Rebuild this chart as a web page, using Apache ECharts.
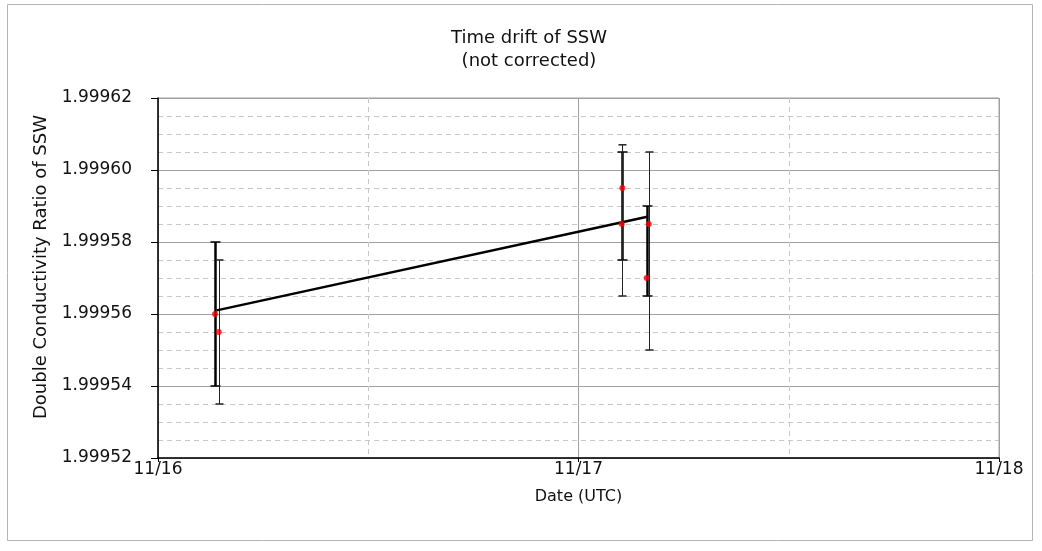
<!DOCTYPE html>
<html>
<head>
<meta charset="utf-8">
<script src="https://cdn.jsdelivr.net/npm/echarts@6/dist/echarts.min.js"></script>
<style>
html,body{margin:0;padding:0;background:#fff;}
#chart{width:1042px;height:551px;}
</style>
</head>
<body>
<div id="chart"></div>
<script>
// ---- data (days since 11/16 00:00 UTC) ----
const xTickLabels = ['11/16', '11/17', '11/18'];
const yTickLabels = ['1.99952', '1.99954', '1.99956', '1.99958', '1.99960', '1.99962'];

// run A (heavy error bars)
const runATimes  = [0.1356, 1.1042, 1.1620];
const runAValues = [1.999560, 1.999595, 1.999570];
const runALow    = [1.999540, 1.999575, 1.999565];
const runAHigh   = [1.999580, 1.999605, 1.999590];

// run B (light error bars)
const runBTimes  = [0.1445, 1.1028, 1.1670];
const runBValues = [1.999555, 1.999585, 1.999585];
const runBLow    = [1.999535, 1.999565, 1.999550];
const runBHigh   = [1.999575, 1.999607, 1.999605];

// linear drift
const trendTimes  = [0.1396, 1.1636];
const trendValues = [1.999561, 1.999587];

const FONT = 'DejaVu Sans';

function errData(t, lo, hi) { return t.map((x, i) => [x, lo[i], hi[i]]); }
function ptData(t, v) { return t.map((x, i) => [x, v[i]]); }

function errRender(lineW, capHalf, color) {
  return function (params, api) {
    const x = api.value(0);
    const pLo = api.coord([x, api.value(1)]);
    const pHi = api.coord([x, api.value(2)]);
    const style = { stroke: color, lineWidth: lineW };
    const xs = Math.round(pLo[0]) + (lineW % 2 ? 0.5 : 0);
    return {
      type: 'group',
      children: [
        { type: 'line', shape: { x1: xs, y1: pHi[1], x2: xs, y2: pLo[1] }, style: style },
        { type: 'line', shape: { x1: xs - capHalf, y1: pHi[1], x2: xs + capHalf, y2: pHi[1] }, style: { stroke: color, lineWidth: 1.5 } },
        { type: 'line', shape: { x1: xs - capHalf, y1: pLo[1], x2: xs + capHalf, y2: pLo[1] }, style: { stroke: color, lineWidth: 1.5 } }
      ]
    };
  };
}

const chart = echarts.init(document.getElementById('chart'), null, { renderer: 'canvas' });
chart.setOption({
  animation: false,
  backgroundColor: '#fff',
  textStyle: { fontFamily: FONT },
  title: {
    text: 'Time drift of SSW\n(not corrected)',
    left: 524, top: 22, textAlign: 'center',
    textStyle: { fontFamily: FONT, fontSize: 18, fontWeight: 'normal', color: '#111', lineHeight: 23 }
  },
  graphic: [{
    type: 'rect', silent: true, z: -10,
    shape: { x: 7.5, y: 4.5, width: 1025, height: 536 },
    style: { fill: 'none', stroke: '#b4b4b4', lineWidth: 1 }
  }],
  grid: { left: 158, right: 43, top: 98, bottom: 93, show: true, borderColor: '#a0a0a0', borderWidth: 1 },
  xAxis: {
    type: 'value', min: 0, max: 2, interval: 1,
    name: 'Date (UTC)', nameLocation: 'middle', nameGap: 31,
    nameTextStyle: { fontFamily: FONT, fontSize: 16, color: '#111' },
    axisLine: { show: true, onZero: false, lineStyle: { color: '#000', width: 1.5 } },
    axisTick: { show: true, inside: false, length: 4, lineStyle: { color: '#000' } },
    axisLabel: { margin: 3, fontFamily: FONT, fontSize: 17, color: '#111',
      formatter: v => xTickLabels[Math.round(v)] },
    splitLine: { show: true, lineStyle: { color: '#a0a0a0', width: 1 } },
    minorTick: { show: false, splitNumber: 2 },
    minorSplitLine: { show: true, lineStyle: { color: '#c8c8c8', type: [5, 4], width: 1 } }
  },
  yAxis: {
    type: 'value', min: 1.99952, max: 1.99962, interval: 0.00002,
    name: 'Double Conductivity Ratio of SSW', nameLocation: 'middle', nameGap: 95, nameRotate: 90,
    nameTextStyle: { fontFamily: FONT, fontSize: 18, color: '#111', padding: [0, 0, 0, 22] },
    axisLine: { show: true, lineStyle: { color: '#000', width: 1.5 } },
    axisTick: { show: true, inside: false, length: 7, lineStyle: { color: '#000' } },
    axisLabel: { margin: 26, fontFamily: FONT, fontSize: 17, color: '#111',
      formatter: v => yTickLabels[Math.round((v - 1.99952) / 0.00002)] },
    splitLine: { show: true, lineStyle: { color: '#a0a0a0', width: 1 } },
    minorTick: { show: false, splitNumber: 4 },
    minorSplitLine: { show: true, lineStyle: { color: '#c8c8c8', type: [5, 4], width: 1 } }
  },
  series: [
    {
      type: 'custom', name: 'errA', renderItem: errRender(2.5, 5, '#000'),
      data: errData(runATimes, runALow, runAHigh), encode: { x: 0, y: [1, 2] }, z: 3
    },
    {
      type: 'custom', name: 'errB', renderItem: errRender(1, 4, '#222'),
      data: errData(runBTimes, runBLow, runBHigh), encode: { x: 0, y: [1, 2] }, z: 3
    },
    {
      type: 'line', name: 'trend', data: ptData(trendTimes, trendValues),
      symbol: 'none', lineStyle: { color: '#000', width: 2.5 }, z: 4
    },
    {
      type: 'scatter', name: 'A', data: ptData(runATimes, runAValues),
      symbol: 'circle', symbolSize: 6, itemStyle: { color: '#ff0000' }, z: 5
    },
    {
      type: 'scatter', name: 'B', data: ptData(runBTimes, runBValues),
      symbol: 'circle', symbolSize: 6, itemStyle: { color: '#ff0000' }, z: 5
    }
  ]
});
</script>
</body>
</html>
